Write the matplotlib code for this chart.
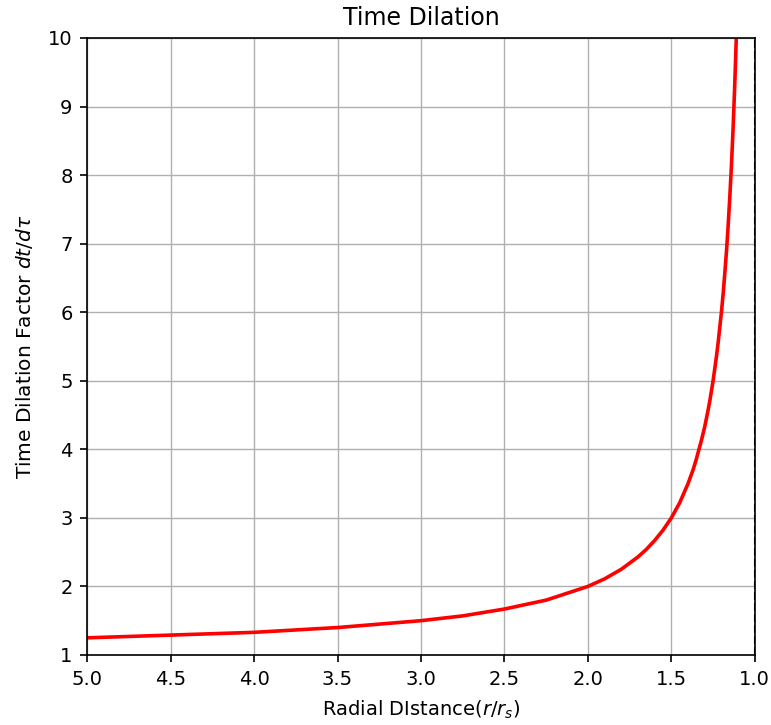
import matplotlib
matplotlib.use('Agg')
import matplotlib.pyplot as plt

# valores (r/r_s, factor dt/dtau)
radio = [5.0, 4.5, 4.0, 3.5, 3.0, 2.75, 2.5, 2.25, 2.0, 1.9, 1.8, 1.7, 1.65,
         1.6, 1.55, 1.5, 1.45, 1.4, 1.37, 1.35, 1.32, 1.3, 1.28, 1.27, 1.25,
         1.23, 1.22, 1.2, 1.19, 1.18, 1.17, 1.16, 1.15, 1.14, 1.13, 1.12,
         1.111]
factor = [1.25, 1.29, 1.33, 1.40, 1.50, 1.57, 1.67, 1.80, 2.00, 2.11, 2.25,
          2.43, 2.54, 2.67, 2.82, 3.00, 3.22, 3.50, 3.70, 3.86, 4.13, 4.33,
          4.57, 4.70, 5.00, 5.35, 5.55, 6.00, 6.26, 6.56, 6.88, 7.25, 7.67,
          8.14, 8.69, 9.33, 10.0]

fig = plt.figure(figsize=(7.71, 7.25), dpi=100)
ax = fig.add_axes([0.113, 0.0966, 0.866, 0.851])

ax.plot(radio, factor, color='red', linewidth=2.6)
ax.axvline(1.0, color='black', linestyle='--', linewidth=1.5)

ax.set_xlim(5, 1)
ax.set_ylim(1, 10)
ax.set_xticks([5.0, 4.5, 4.0, 3.5, 3.0, 2.5, 2.0, 1.5, 1.0])
ax.set_yticks(range(1, 11))
ax.grid(True, linewidth=1.0, color='#b0b0b0')
ax.tick_params(labelsize=14, width=1.2, length=5, pad=5.5)
for s in ax.spines.values():
    s.set_linewidth(1.2)

ax.set_title('Time Dilation', fontsize=17, pad=9)
ax.set_xlabel('Radial DIstance$(r/r_s)$', fontsize=14, labelpad=7)
ax.set_ylabel(r'Time Dilation Factor $dt/d\tau$', fontsize=14.5, labelpad=9)

fig.savefig('out.png', dpi=100)
